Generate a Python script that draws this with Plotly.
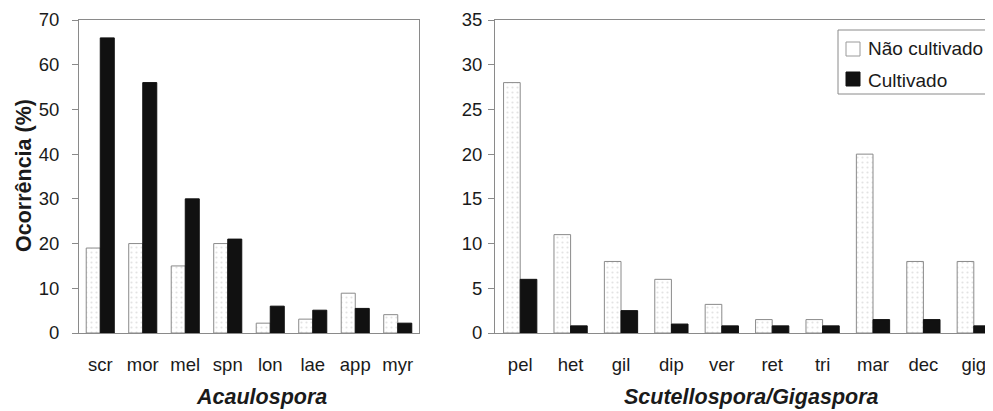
import plotly.graph_objects as go

acau_cats = ["scr", "mor", "mel", "spn", "lon", "lae", "app", "myr"]
acau_nao = [19, 20, 15, 20, 2.2, 3.1, 8.9, 4.1]
acau_cult = [66, 56, 30, 21, 6, 5.1, 5.5, 2.2]

scut_cats = ["pel", "het", "gil", "dip", "ver", "ret", "tri", "mar", "dec", "gig"]
scut_nao = [28, 11, 8, 6, 3.2, 1.5, 1.5, 20, 8, 8]
scut_cult = [6, 0.8, 2.5, 1, 0.8, 0.8, 0.8, 1.5, 1.5, 0.8]

series_names = ["Não cultivado", "Cultivado"]

# The page body has an 8px default margin, so the figure is drawn 8px smaller
# and every reference pixel position below is shifted by OFF.
WIN_W, WIN_H = 993, 411
OFF = 8
W, H = WIN_W - OFF, WIN_H - OFF
TOP, BOT = 20, 333  # plot area rows in window pixels
FONT = "Liberation Sans, Arial, sans-serif"
TXT = "#1a1a1a"
EDGE = "#8a8a8a"


def px_(p):
    """window pixel column -> paper x"""
    return (p - OFF) / W


def py(p):
    """window pixel row -> paper y (paper spans the plot area)"""
    return (BOT - p) / (BOT - TOP)


nao_marker = dict(color="white", line=dict(color=EDGE, width=1),
                  pattern=dict(shape=".", fgcolor="#c8c8c8", bgcolor="white", size=5, solidity=0.15))
cult_marker = dict(color="#111111", line=dict(color="#111111", width=1))

fig = go.Figure()
fig.add_trace(go.Bar(x=acau_cats, y=acau_nao, name=series_names[0], marker=nao_marker,
                     showlegend=False, xaxis="x", yaxis="y"))
fig.add_trace(go.Bar(x=acau_cats, y=acau_cult, name=series_names[1], marker=cult_marker,
                     showlegend=False, xaxis="x", yaxis="y"))
fig.add_trace(go.Bar(x=scut_cats, y=scut_nao, name=series_names[0], marker=nao_marker,
                     showlegend=False, xaxis="x2", yaxis="y2"))
fig.add_trace(go.Bar(x=scut_cats, y=scut_cult, name=series_names[1], marker=cult_marker,
                     showlegend=False, xaxis="x2", yaxis="y2"))

axis_common = dict(showgrid=False, zeroline=False, showline=True, linecolor=EDGE, linewidth=1,
                   tickfont=dict(family=FONT, size=18.5, color=TXT), automargin=False)

left_px = (79, 419)
right_px = (495, 993)
cat_w = 50.4
right_range = [-0.5, -0.5 + (right_px[1] - right_px[0]) / cat_w]

# manual legend (box, swatches, labels) positioned in window pixels
leg_box = (838, 30, 992, 94)
swatches = [(846, 42, 860, 56), (846, 72, 860, 86)]
label_rows = [48, 80]
shapes = [dict(type="rect", xref="paper", yref="paper",
               x0=px_(leg_box[0]), x1=px_(leg_box[2]), y0=py(leg_box[3]), y1=py(leg_box[1]),
               line=dict(color=EDGE, width=1), fillcolor="white", layer="above")]
sw_fill = ["white", "#111111"]
sw_line = ["#9a9a9a", "#111111"]
for (x0, y0, x1, y1), fc, lc in zip(swatches, sw_fill, sw_line):
    shapes.append(dict(type="rect", xref="paper", yref="paper",
                       x0=px_(x0), x1=px_(x1), y0=py(y1), y1=py(y0),
                       line=dict(color=lc, width=1), fillcolor=fc, layer="above"))

annotations = [
    dict(text="<b>Ocorrência (%)</b>", textangle=-90, x=px_(24), y=py(176),
         xanchor="center", yanchor="middle",
         xref="paper", yref="paper", showarrow=False, font=dict(family=FONT, size=21.5, color=TXT)),
    dict(text="<b><i>Acaulospora</i></b>", x=px_(261), y=py(397), xanchor="center", yanchor="middle",
         xref="paper", yref="paper", showarrow=False, font=dict(family=FONT, size=21.5, color=TXT)),
    dict(text="<b><i>Scutellospora/Gigaspora</i></b>", x=px_(751), y=py(397),
         xanchor="center", yanchor="middle",
         xref="paper", yref="paper", showarrow=False, font=dict(family=FONT, size=21.5, color=TXT)),
]
for name, row in zip(series_names, label_rows):
    annotations.append(dict(text=name, x=px_(866), y=py(row), xanchor="left", yanchor="middle",
                            xref="paper", yref="paper", showarrow=False,
                            font=dict(family=FONT, size=19, color=TXT)))

fig.update_layout(
    width=W, height=H,
    margin=dict(l=0, r=0, t=TOP - OFF, b=WIN_H - BOT, autoexpand=False),
    paper_bgcolor="white", plot_bgcolor="white",
    barmode="group", bargap=0.34, bargroupgap=0,
    showlegend=False,
    font=dict(family=FONT, color=TXT),
    xaxis=dict(domain=[px_(left_px[0]), px_(left_px[1])], range=[-0.5, 7.5], mirror=True,
               ticks="", ticklabelstandoff=15, anchor="y", **axis_common),
    yaxis=dict(domain=[0, 1], range=[0, 70], dtick=10, mirror=True, ticks="outside",
               ticklen=6, tickcolor=EDGE, ticklabelstandoff=9, anchor="x", **axis_common),
    xaxis2=dict(domain=[px_(right_px[0]), 1], range=right_range, mirror=True,
                ticks="", ticklabelstandoff=15, anchor="y2", **axis_common),
    yaxis2=dict(domain=[0, 1], range=[0, 35], dtick=5, mirror=False, ticks="outside",
                ticklen=6, tickcolor=EDGE, ticklabelstandoff=2, anchor="x2", **axis_common),
    shapes=shapes,
    annotations=annotations,
)

fig.write_html("out.html")
